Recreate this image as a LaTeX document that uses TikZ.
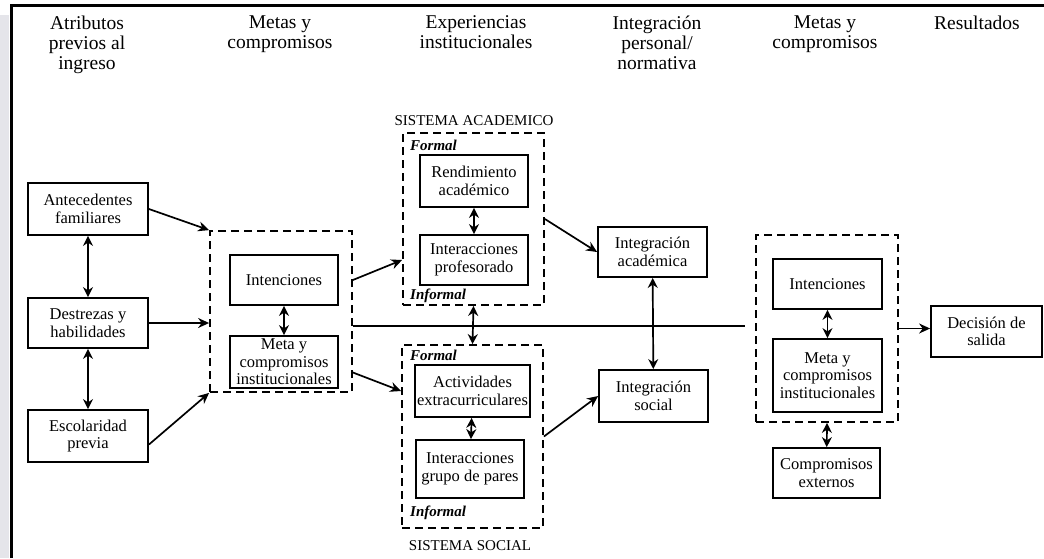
\documentclass[tikz,border=0pt]{standalone}
\usepackage{fontspec}
\setmainfont{Liberation Serif}
\usepackage{tikz}
\usetikzlibrary{arrows.meta}
\usetikzlibrary{positioning}
\usetikzlibrary{calc}

\begin{document}
\begin{tikzpicture}[x=1pt, y=-1pt,
    box/.style={draw, line width=1.8pt, align=center, inner sep=2pt, font=\fontsize{16.5}{17.5}\selectfont},
    grp/.style={draw, line width=1.8pt, dash pattern=on 8pt off 5pt},
    hdr/.style={align=center, anchor=north, inner sep=0pt, font=\fontsize{19.5}{20}\selectfont},
    tag/.style={anchor=base west, inner sep=0pt, font=\fontsize{15}{15}\selectfont\bfseries\itshape},
    sis/.style={anchor=base, inner sep=0pt, font=\fontsize{15}{15}\selectfont},
    arr/.style={-{Stealth[length=11pt,width=10pt]}, line width=1.7pt},
    dbl/.style={{Stealth[length=10pt,width=10pt]}-{Stealth[length=10pt,width=10pt]}, line width=1.7pt}]
          \useasboundingbox (0,0) rectangle (1044,558);
          \fill[fill={rgb,255:red,229;green,229;blue,234}] (0,15) rectangle (9,558);
          \draw[line width=3pt] (11,558) -- (11,5.5) -- (1044,5.5);

          \node[hdr] (h1) at (87,15.5) {Atributos\\previos al\\ingreso};
          \node[hdr] (h2) at (280,15.5) {Metas y\\compromisos};
          \node[hdr] (h3) at (476,15.5) {Experiencias\\institucionales};
          \node[hdr] (h4) at (657,15.5) {Integración\\personal/\\normativa};
          \node[hdr] (h5) at (825,15.5) {Metas y\\compromisos};
          \node[hdr] (h6) at (977,15.5) {Resultados};

          \node[box, minimum width=120pt, minimum height=52pt] (ante) at (88,209) {Antecedentes\\familiares};
          \node[box, minimum width=120pt, minimum height=50pt] (destr) at (88,323) {Destrezas y\\habilidades};
          \node[box, minimum width=120pt, minimum height=52pt] (escol) at (88,436) {Escolaridad\\previa};

          \node[grp, minimum width=142pt, minimum height=161pt] (metasL) at (281,311.5) {};
          \node[box, minimum width=108pt, minimum height=50pt] (intL) at (284,280) {Intenciones};
          \node[box, minimum width=108pt, minimum height=52pt] (metaL) at (284,362) {Meta y\\compromisos\\institucionales};

          \node[grp, minimum width=141pt, minimum height=172pt] (acad) at (473.5,219) {};
          \node[sis] (sacad) at (474,125) {SISTEMA ACADEMICO};
          \node[tag] (fa) at (410,150) {Formal};
          \node[tag] (ia) at (410,299) {Informal};
          \node[box, minimum width=108pt, minimum height=52pt] (rend) at (474,181) {Rendimiento\\académico};
          \node[box, minimum width=108pt, minimum height=50pt] (prof) at (474,260) {Interacciones\\profesorado};

          \node[grp, minimum width=141pt, minimum height=183pt] (soc) at (472.5,436.5) {};
          \node[sis] (ssoc) at (470,550) {SISTEMA SOCIAL};
          \node[tag] (fs) at (410,360) {Formal};
          \node[tag] (is) at (410,516) {Informal};
          \node[box, minimum width=109pt, minimum height=52pt] (activ) at (472.5,391) {Actividades\\extracurriculares};
          \node[box, minimum width=108pt, minimum height=58pt] (pares) at (470,469) {Interacciones\\grupo de pares};

          \node[box, minimum width=109pt, minimum height=50pt] (intA) at (652.5,252) {Integración\\académica};
          \node[box, minimum width=109pt, minimum height=52pt] (intS) at (653.5,396) {Integración\\social};

          \node[grp, minimum width=142pt, minimum height=187pt] (metasR) at (827,328.5) {};
          \node[box, minimum width=109pt, minimum height=50pt] (intR) at (827.5,284) {Intenciones};
          \node[box, minimum width=109pt, minimum height=73pt] (metaR) at (827.5,375.5) {Meta y\\compromisos\\institucionales};
          \node[box, minimum width=107pt, minimum height=50pt] (compext) at (826.5,473) {Compromisos\\externos};

          \node[box, minimum width=111pt, minimum height=51pt] (dec) at (986.5,331.5) {Decisión de\\salida};

          \coordinate (lnend) at (745,326);

          \draw[arr] (ante.east) -- (metasL.north west);
          \draw[arr] (destr.east) -- (destr.east -| metasL.west);
          \draw[arr] (escol.-8) -- (metasL.south west);
          \draw[dbl] (ante) -- (destr);
          \draw[dbl] (destr) -- (escol);
          \draw[dbl] (intL) -- (metaL);

          \draw[arr] (metasL.east |- intL) -- (acad.west |- prof);
          \draw[arr] ($(metasL.east)+(0,61)$) -- (soc.west |- activ);
          \draw[line width=1.7pt] (metasL.east |- lnend) -- (lnend);

          \draw[dbl] (rend) -- (prof);
          \draw[dbl] (activ) -- (pares);
          \draw[dbl] (acad.south) -- (soc.north);

          \draw[arr] (acad.east) -- (intA.west);
          \draw[arr] (soc.east) -- (intS.west);
          \draw[dbl] (intA) -- (intS);

          \draw[dbl] (intR) -- (metaR);
          \draw[dbl] (metasR.south) -- (compext);
          \draw[arr] (metasR.east) -- (metasR.east -| dec.west);
        \end{tikzpicture}
\end{document}
